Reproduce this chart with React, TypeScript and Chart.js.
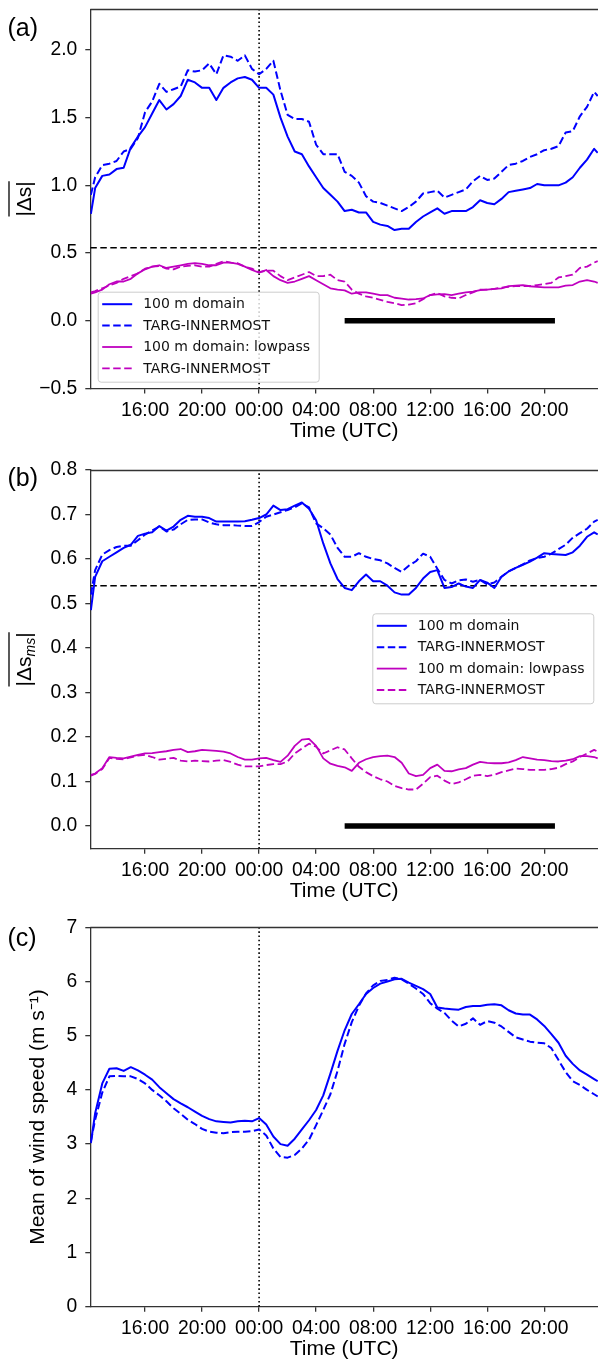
import React, { useEffect, useRef } from 'react';
import { Chart, registerables } from 'chart.js';

Chart.register(...registerables);

// ---------------- data ----------------
const TIME_H = [
  -11.8, -11.5, -11, -10.5, -10, -9.5, -9, -8.5, -8, -7.5,
  -7, -6.5, -6, -5.5, -5, -4.5, -4, -3.5, -3, -2.5,
  -2, -1.5, -1, -0.5, 0, 0.5, 1, 1.5, 2, 2.5,
  3, 3.5, 4, 4.5, 5, 5.5, 6, 6.5, 7, 7.5,
  8, 8.5, 9, 9.5, 10, 10.5, 11, 11.5, 12, 12.5,
  13, 13.5, 14, 14.5, 15, 15.5, 16, 16.5, 17, 17.5,
  18, 18.5, 19, 19.5, 20, 20.5, 21, 21.5, 22, 22.5,
  23, 23.5, 23.75,
];

const A_DOMAIN = [
  0.79, 0.98, 1.07, 1.08, 1.12, 1.13, 1.28, 1.36, 1.43, 1.53,
  1.63, 1.56, 1.60, 1.66, 1.78, 1.76, 1.72, 1.72, 1.63, 1.72,
  1.76, 1.79, 1.80, 1.78, 1.72, 1.72, 1.67, 1.50, 1.36, 1.25,
  1.23, 1.14, 1.06, 0.98, 0.93, 0.88, 0.81, 0.82, 0.80, 0.80,
  0.73, 0.71, 0.70, 0.67, 0.68, 0.68, 0.73, 0.77, 0.80, 0.83,
  0.79, 0.81, 0.81, 0.81, 0.84, 0.89, 0.87, 0.86, 0.90, 0.95,
  0.96, 0.97, 0.98, 1.01, 1.00, 1.00, 1.00, 1.02, 1.06, 1.13,
  1.19, 1.27, 1.24,
];
const A_TARG = [
  0.93, 1.06, 1.15, 1.16, 1.18, 1.25, 1.27, 1.35, 1.54, 1.62,
  1.75, 1.69, 1.71, 1.73, 1.85, 1.84, 1.85, 1.90, 1.82, 1.96,
  1.95, 1.92, 1.96, 1.86, 1.82, 1.86, 1.92, 1.70, 1.52, 1.49,
  1.49, 1.47, 1.30, 1.23, 1.23, 1.23, 1.10, 1.07, 1.02, 0.92,
  0.88, 0.87, 0.85, 0.83, 0.81, 0.84, 0.88, 0.94, 0.95, 0.96,
  0.91, 0.93, 0.95, 0.97, 1.03, 1.07, 1.04, 1.05, 1.10, 1.15,
  1.16, 1.18, 1.21, 1.23, 1.26, 1.27, 1.29, 1.39, 1.40, 1.51,
  1.58, 1.69, 1.66,
];
const A_DOMAIN_LP = [
  0.20, 0.21, 0.23, 0.27, 0.29, 0.29, 0.31, 0.35, 0.38, 0.40,
  0.41, 0.39, 0.40, 0.41, 0.42, 0.425, 0.42, 0.41, 0.41, 0.43,
  0.43, 0.42, 0.40, 0.375, 0.355, 0.375, 0.33, 0.30, 0.28, 0.29,
  0.31, 0.33, 0.30, 0.27, 0.24, 0.23, 0.225, 0.20, 0.21, 0.21,
  0.20, 0.19, 0.19, 0.17, 0.163, 0.157, 0.16, 0.165, 0.19, 0.195,
  0.197, 0.19, 0.20, 0.21, 0.215, 0.226, 0.23, 0.235, 0.24, 0.256,
  0.26, 0.264, 0.255, 0.25, 0.246, 0.246, 0.246, 0.26, 0.264, 0.29,
  0.30, 0.29, 0.28,
];
const A_TARG_LP = [
  0.21, 0.22, 0.24, 0.26, 0.28, 0.31, 0.33, 0.35, 0.385, 0.40,
  0.405, 0.385, 0.38, 0.40, 0.405, 0.41, 0.40, 0.40, 0.42, 0.44,
  0.43, 0.425, 0.40, 0.385, 0.36, 0.37, 0.37, 0.33, 0.30, 0.32,
  0.34, 0.36, 0.33, 0.33, 0.34, 0.30, 0.29, 0.23, 0.20, 0.18,
  0.17, 0.155, 0.14, 0.13, 0.115, 0.12, 0.13, 0.16, 0.19, 0.205,
  0.18, 0.17, 0.165, 0.19, 0.21, 0.23, 0.23, 0.235, 0.245, 0.25,
  0.256, 0.256, 0.256, 0.264, 0.27, 0.28, 0.32, 0.33, 0.34, 0.39,
  0.40, 0.43, 0.44,
];

const B_DOMAIN = [
  0.485, 0.56, 0.595, 0.605, 0.615, 0.625, 0.632, 0.652, 0.657, 0.66,
  0.674, 0.664, 0.673, 0.688, 0.697, 0.695, 0.695, 0.692, 0.684, 0.684,
  0.684, 0.684, 0.685, 0.688, 0.692, 0.70, 0.72, 0.71, 0.712, 0.72,
  0.727, 0.713, 0.687, 0.635, 0.59, 0.555, 0.535, 0.53, 0.55, 0.565,
  0.55, 0.55, 0.54, 0.525, 0.52, 0.52, 0.535, 0.556, 0.571, 0.575,
  0.535, 0.537, 0.545, 0.538, 0.535, 0.553, 0.547, 0.535, 0.56, 0.572,
  0.58, 0.587, 0.594, 0.603, 0.613, 0.611, 0.61, 0.609, 0.615, 0.63,
  0.65, 0.66, 0.655,
];
const B_TARG = [
  0.52, 0.575, 0.61, 0.62, 0.627, 0.63, 0.63, 0.642, 0.655, 0.664,
  0.673, 0.662, 0.666, 0.678, 0.688, 0.689, 0.689, 0.682, 0.678, 0.676,
  0.676, 0.675, 0.674, 0.674, 0.683, 0.695, 0.70, 0.705, 0.71, 0.716,
  0.725, 0.716, 0.68, 0.669, 0.655, 0.625, 0.605, 0.605, 0.613, 0.605,
  0.60, 0.597, 0.59, 0.58, 0.571, 0.585, 0.595, 0.612, 0.605, 0.578,
  0.553, 0.545, 0.552, 0.554, 0.549, 0.553, 0.543, 0.547, 0.56, 0.572,
  0.58, 0.588, 0.597, 0.602, 0.605, 0.612, 0.622, 0.632, 0.648, 0.658,
  0.668, 0.684, 0.688,
];
const B_DOMAIN_LP = [
  0.115, 0.118, 0.13, 0.155, 0.153, 0.152, 0.156, 0.16, 0.163, 0.164,
  0.166, 0.168, 0.171, 0.173, 0.166, 0.168, 0.171, 0.17, 0.169, 0.167,
  0.163, 0.155, 0.149, 0.149, 0.152, 0.153, 0.148, 0.144, 0.158, 0.18,
  0.194, 0.196, 0.18, 0.152, 0.14, 0.135, 0.132, 0.124, 0.142, 0.15,
  0.155, 0.157, 0.158, 0.155, 0.142, 0.118, 0.112, 0.115, 0.13, 0.138,
  0.124, 0.123, 0.127, 0.13, 0.138, 0.144, 0.142, 0.141, 0.141, 0.143,
  0.148, 0.155, 0.152, 0.149, 0.148, 0.146, 0.145, 0.147, 0.15, 0.157,
  0.157, 0.155, 0.152,
];
const B_TARG_LP = [
  0.113, 0.117, 0.128, 0.153, 0.151, 0.15, 0.154, 0.158, 0.16, 0.155,
  0.149, 0.151, 0.153, 0.147, 0.145, 0.147, 0.146, 0.145, 0.147, 0.148,
  0.144, 0.138, 0.134, 0.134, 0.134, 0.137, 0.139, 0.139, 0.145, 0.163,
  0.174, 0.185, 0.178, 0.163, 0.17, 0.177, 0.172, 0.152, 0.133, 0.121,
  0.112, 0.105, 0.10, 0.09, 0.085, 0.082, 0.082, 0.095, 0.11, 0.113,
  0.102, 0.094, 0.098, 0.105, 0.113, 0.115, 0.112, 0.115, 0.121, 0.125,
  0.129, 0.128, 0.126, 0.126, 0.126, 0.128, 0.131, 0.139, 0.145, 0.155,
  0.163, 0.171, 0.167,
];

const C_DOMAIN = [
  3.02, 3.57, 4.12, 4.39, 4.40, 4.35, 4.42, 4.36, 4.28, 4.19,
  4.05, 3.94, 3.83, 3.75, 3.68, 3.60, 3.52, 3.46, 3.42, 3.41,
  3.40, 3.42, 3.43, 3.42, 3.48, 3.36, 3.14, 3.00, 2.97, 3.10,
  3.27, 3.44, 3.63, 3.90, 4.30, 4.72, 5.10, 5.40, 5.58, 5.77,
  5.88, 5.96, 6.00, 6.04, 6.05, 5.98, 5.92, 5.86, 5.77, 5.52,
  5.50, 5.49, 5.48, 5.53, 5.55, 5.55, 5.57, 5.58, 5.56, 5.47,
  5.41, 5.39, 5.39, 5.30, 5.18, 5.03, 4.87, 4.63, 4.48, 4.36,
  4.28, 4.20, 4.16,
];
const C_TARG = [
  3.05, 3.45, 3.95, 4.25, 4.26, 4.25, 4.25, 4.20, 4.12, 4.00,
  3.90, 3.79, 3.66, 3.56, 3.45, 3.37, 3.28, 3.23, 3.21, 3.20,
  3.22, 3.23, 3.23, 3.24, 3.27, 3.16, 2.92, 2.76, 2.75, 2.80,
  2.92, 3.08, 3.35, 3.63, 3.92, 4.35, 4.85, 5.25, 5.55, 5.78,
  5.93, 6.01, 6.03, 6.07, 6.04, 5.96, 5.87, 5.77, 5.60, 5.50,
  5.42, 5.28, 5.17, 5.22, 5.32, 5.20, 5.27, 5.24, 5.17, 5.07,
  4.97, 4.93, 4.89, 4.87, 4.86, 4.77, 4.55, 4.33, 4.16, 4.09,
  4.00, 3.92, 3.88,
];

const X_TICKS = [-8, -4, 0, 4, 8, 12, 16, 20];
const X_TICK_LABELS = ['16:00', '20:00', '00:00', '04:00', '08:00', '12:00', '16:00', '20:00'];
const A_Y_TICKS = [-0.5, 0, 0.5, 1.0, 1.5, 2.0];
const B_Y_TICKS = [0, 0.1, 0.2, 0.3, 0.4, 0.5, 0.6, 0.7, 0.8];
const C_Y_TICKS = [0, 1, 2, 3, 4, 5, 6, 7];
const X_MIN = -11.84;
const X_MAX = 23.77;
const THRESHOLD = 0.54;
const BAR_START = 6;
const BAR_END = 20.75;
const LEGEND_LABELS = ['100 m domain', 'TARG-INNERMOST', '100 m domain: lowpass', 'TARG-INNERMOST'];

// ---------------- styling ----------------
const FONT = "'Liberation Sans', Arial, Helvetica, sans-serif";
const BLUE = '#0000ff';
const MAG = '#bf00bf';
const AXIS = '#333333';
const DASH = [7.5, 3.5];
const TICK_SIZE = 19.3;

const series = (ys: number[]) => TIME_H.map((x, i) => ({ x, y: ys[i] }));

function lineDs(label: string, ys: number[], color: string, dashed: boolean, width = 2) {
  return {
    label,
    data: series(ys),
    borderColor: color,
    borderWidth: width,
    borderDash: dashed ? DASH : [],
    pointRadius: 0,
    fill: false,
    tension: 0,
    borderJoinStyle: 'round',
  };
}

function refLines(yMin: number, yMax: number, withThreshold: boolean) {
  const out: any[] = [];
  if (withThreshold) {
    out.push({
      label: 'threshold',
      data: [{ x: X_MIN, y: THRESHOLD }, { x: X_MAX, y: THRESHOLD }],
      borderColor: '#000', borderWidth: 1.5, borderDash: [6.5, 3.5], pointRadius: 0, fill: false,
    });
    out.push({
      label: 'period',
      data: [{ x: BAR_START, y: 0 }, { x: BAR_END, y: 0 }],
      borderColor: '#000', borderWidth: 5.5, borderCapStyle: 'butt', pointRadius: 0, fill: false,
    });
  }
  out.push({
    label: 'midnight',
    data: [{ x: 0, y: yMin }, { x: 0, y: yMax }],
    borderColor: '#000', borderWidth: 1.6, borderDash: [1.6, 2.6], pointRadius: 0, fill: false,
  });
  return out;
}

const decorPlugin = {
  id: 'decor',
  afterDatasetsDraw(chart: any, _args: any, opts: any) {
    const ctx = chart.ctx as CanvasRenderingContext2D;
    const ca = chart.chartArea;
    ctx.save();
    // top spine
    ctx.beginPath();
    ctx.strokeStyle = AXIS;
    ctx.lineWidth = 1.3;
    ctx.moveTo(ca.left, Math.round(ca.top) + 0.5);
    ctx.lineTo(ca.right, Math.round(ca.top) + 0.5);
    ctx.stroke();

    // panel label
    ctx.fillStyle = '#000';
    ctx.font = `25px ${FONT}`;
    ctx.textBaseline = 'middle';
    ctx.textAlign = 'left';
    ctx.fillText(opts.label, 7.5, 29);

    // y title with overline
    if (opts.yTitle) {
      const t = opts.yTitle;
      const cy = (ca.top + ca.bottom) / 2;
      ctx.save();
      ctx.translate(30.6, cy);
      ctx.rotate(-Math.PI / 2);
      const mainFont = `21px ${FONT}`;
      const subFont = `italic 14px ${FONT}`;
      ctx.font = mainFont;
      const w1 = ctx.measureText(t.main).width;
      const w3 = ctx.measureText(t.tail).width;
      ctx.font = subFont;
      const w2 = t.sub ? ctx.measureText(t.sub).width : 0;
      const total = w1 + w2 + w3;
      let sx = -total / 2;
      ctx.textBaseline = 'alphabetic';
      ctx.fillStyle = '#000';
      ctx.font = mainFont;
      ctx.fillText(t.main, sx, 0);
      sx += w1;
      if (t.sub) {
        ctx.font = subFont;
        ctx.fillText(t.sub, sx, 4.5);
        sx += w2;
      }
      ctx.font = mainFont;
      ctx.fillText(t.tail, sx, 0);
      ctx.beginPath();
      ctx.strokeStyle = '#000';
      ctx.lineWidth = 1.3;
      ctx.moveTo(-total / 2, -21.6);
      ctx.lineTo(total / 2, -21.6);
      ctx.stroke();
      ctx.restore();
    }

    // legend
    if (opts.legend) {
      const { x, y } = opts.legend;
      const w = 221;
      const h = 90;
      ctx.beginPath();
      if ((ctx as any).roundRect) (ctx as any).roundRect(x + 0.5, y + 0.5, w, h, 3);
      else ctx.rect(x + 0.5, y + 0.5, w, h);
      ctx.fillStyle = 'rgba(255,255,255,0.8)';
      ctx.fill();
      ctx.strokeStyle = '#cccccc';
      ctx.lineWidth = 1;
      ctx.stroke();
      ctx.font = "14px 'DejaVu Sans', sans-serif";
      ctx.textBaseline = 'middle';
      for (let i = 0; i < 4; i++) {
        const ds = chart.data.datasets[i];
        const ry = y + 12.5 + i * 21.4;
        ctx.beginPath();
        ctx.setLineDash(ds.borderDash || []);
        ctx.strokeStyle = ds.borderColor;
        ctx.lineWidth = ds.borderWidth;
        ctx.moveTo(x + 4.5, ry);
        ctx.lineTo(x + 34.5, ry);
        ctx.stroke();
        ctx.setLineDash([]);
        ctx.fillStyle = '#111';
        ctx.fillText(ds.label, x + 45.5, ry + 0.5);
      }
    }
    ctx.restore();
  },
};

type PanelCfg = {
  height: number;
  padTop: number;
  xAxisH: number;
  titlePadBottom: number;
  yMin: number;
  yMax: number;
  yTicks: number[];
  decimals: number;
  datasets: any[];
  label: string;
  yTitle?: { main: string; sub: string; tail: string };
  yTitleText?: string;
  legend?: { x: number; y: number };
};

function fmt(v: number, d: number) {
  const s = Math.abs(v).toFixed(d);
  return v < 0 ? '\u2212' + s : s;
}

function buildConfig(p: PanelCfg): any {
  return {
    type: 'line',
    data: { datasets: p.datasets },
    plugins: [decorPlugin],
    options: {
      responsive: false,
      animation: false,
      devicePixelRatio: 1,
      events: [],
      layout: { padding: { top: p.padTop, left: 0, right: 0, bottom: 0 } },
      plugins: {
        legend: { display: false },
        tooltip: { enabled: false },
        decor: { label: p.label, yTitle: p.yTitle, legend: p.legend },
      },
      scales: {
        x: {
          type: 'linear',
          min: X_MIN,
          max: X_MAX,
          afterFit: (s: any) => {
            s.height = p.xAxisH;
            s.paddingLeft = 0;
            s.paddingRight = 0;
          },
          afterBuildTicks: (s: any) => { s.ticks = X_TICKS.map((v) => ({ value: v })); },
          ticks: {
            autoSkip: false,
            maxRotation: 0,
            padding: 5.4,
            color: '#000',
            font: { family: FONT, size: TICK_SIZE, lineHeight: 1.2 },
            callback: (_v: any, i: number) => X_TICK_LABELS[i],
          },
          grid: { drawOnChartArea: false, drawTicks: true, tickLength: 5, color: AXIS, lineWidth: 1.3 },
          border: { display: true, color: AXIS, width: 1.3 },
          title: {
            display: true,
            text: 'Time (UTC)',
            color: '#000',
            font: { family: FONT, size: 21, lineHeight: 1 },
            padding: { top: 0, bottom: p.titlePadBottom },
          },
        },
        y: {
          type: 'linear',
          min: p.yMin,
          max: p.yMax,
          afterFit: (s: any) => {
            s.width = 90.3;
            s.paddingTop = 0;
            s.paddingBottom = 0;
          },
          afterBuildTicks: (s: any) => { s.ticks = p.yTicks.map((v) => ({ value: v })); },
          ticks: {
            padding: 8,
            color: '#000',
            font: { family: FONT, size: TICK_SIZE, lineHeight: 1.2 },
            callback: (v: any) => fmt(Number(v), p.decimals),
          },
          grid: { drawOnChartArea: false, drawTicks: true, tickLength: 5, color: AXIS, lineWidth: 1.3 },
          border: { display: true, color: AXIS, width: 1.3 },
          title: {
            display: !!p.yTitleText,
            text: p.yTitleText || '',
            color: '#000',
            font: { family: FONT, size: 21, lineHeight: 1 },
            padding: { top: 27.7, bottom: 0 },
          },
        },
      },
    },
  };
}

const PANEL_A: PanelCfg = {
  height: 450, padTop: 9.3, xAxisH: 61.5, titlePadBottom: 8.5,
  yMin: -0.5, yMax: 2.3, yTicks: A_Y_TICKS, decimals: 1, label: '(a)',
  yTitle: { main: '|\u0394s', sub: '', tail: '|' },
  legend: { x: 97.7, y: 291.7 },
  datasets: [
    lineDs(LEGEND_LABELS[0], A_DOMAIN, BLUE, false),
    lineDs(LEGEND_LABELS[1], A_TARG, BLUE, true),
    lineDs(LEGEND_LABELS[2], A_DOMAIN_LP, MAG, false, 1.8),
    lineDs(LEGEND_LABELS[3], A_TARG_LP, MAG, true, 1.8),
    ...refLines(-0.5, 2.3, true),
  ],
};

const PANEL_B: PanelCfg = {
  height: 460, padTop: 20, xAxisH: 61.3, titlePadBottom: 8.3,
  yMin: -0.051, yMax: 0.8, yTicks: B_Y_TICKS, decimals: 1, label: '(b)',
  yTitle: { main: '|\u0394s', sub: 'ms', tail: '|' },
  legend: { x: 372.3, y: 163.3 },
  datasets: [
    lineDs(LEGEND_LABELS[0], B_DOMAIN, BLUE, false),
    lineDs(LEGEND_LABELS[1], B_TARG, BLUE, true),
    lineDs(LEGEND_LABELS[2], B_DOMAIN_LP, MAG, false, 1.8),
    lineDs(LEGEND_LABELS[3], B_TARG_LP, MAG, true, 1.8),
    ...refLines(-0.051, 0.8, true),
  ],
};

const PANEL_C: PanelCfg = {
  height: 450, padTop: 17.3, xAxisH: 53.3, titlePadBottom: 0.5,
  yMin: 0, yMax: 7, yTicks: C_Y_TICKS, decimals: 0, label: '(c)',
  yTitleText: 'Mean of wind speed (m s\u207B\u00B9)',
  datasets: [
    lineDs(LEGEND_LABELS[0], C_DOMAIN, BLUE, false),
    lineDs(LEGEND_LABELS[1], C_TARG, BLUE, true),
    ...refLines(0, 7, false),
  ],
};

function Panel({ cfg, top }: { cfg: PanelCfg; top: number }) {
  const ref = useRef<HTMLCanvasElement | null>(null);
  useEffect(() => {
    if (!ref.current) return;
    const chart = new Chart(ref.current, buildConfig(cfg));
    return () => chart.destroy();
  }, [cfg]);
  return (
    <canvas
      ref={ref}
      width={598}
      height={cfg.height}
      style={{ position: 'absolute', left: 0, top, width: 598, height: cfg.height, display: 'block' }}
    />
  );
}

export default function App() {
  return (
    <div style={{ position: 'absolute', left: 0, top: 0, width: 598, height: 1360, background: '#fff', overflow: 'hidden' }}>
      <Panel cfg={PANEL_A} top={0} />
      <Panel cfg={PANEL_B} top={450} />
      <Panel cfg={PANEL_C} top={910} />
    </div>
  );
}
